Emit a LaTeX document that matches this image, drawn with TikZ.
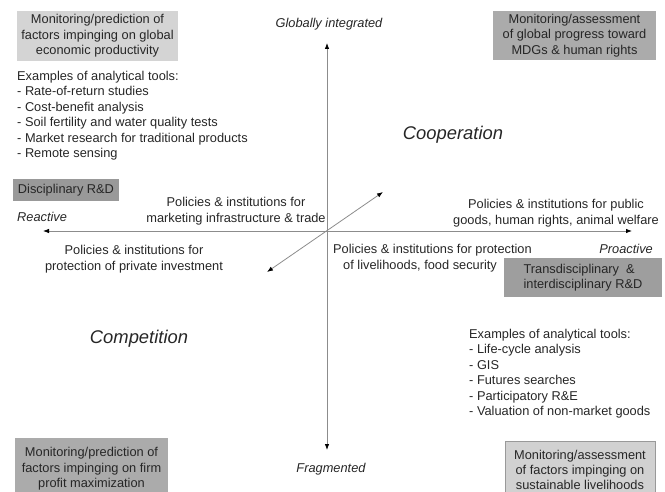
\documentclass[tikz,border=0pt]{standalone}
\usepackage{fontspec}
\setmainfont{Liberation Sans}
\usetikzlibrary{arrows.meta}

\begin{document}
\begin{tikzpicture}[x=1pt,y=-1pt,
  every node/.style={font=\fontsize{12.8}{15.4}\selectfont, text=black!85, inner sep=0pt},
  twotip/.style={line width=0.8pt, draw=black!45,
    {Latex[color=black,length=6pt,width=4.5pt]}-{Latex[color=black,length=6pt,width=4.5pt]}},
  greybox/.style={align=center},
  axislabel/.style={font=\fontsize{12.8}{15.4}\selectfont\itshape},
  quadrant/.style={font=\fontsize{18.4}{22}\selectfont\itshape}]
\useasboundingbox (0,0) rectangle (665,492);

\coordinate (axN) at (327,43);
\coordinate (axS) at (327,450);
\coordinate (axW) at (43,231);
\coordinate (axE) at (632,231);
\coordinate (diagNE) at (383,192);
\coordinate (diagSW) at (267,272);

\draw[twotip] (axS) -- (axN);
\draw[twotip] (axW) -- (axE);
\draw[twotip] (diagSW) -- (diagNE);

\node[axislabel] (glob) at (329,24) {Globally integrated};
\node[axislabel] (frag) at (331,469) {Fragmented};
\node[axislabel, anchor=west] (react) at (17,217) {Reactive};
\node[axislabel, anchor=east] (proact) at (653,249) {Proactive};

\node[quadrant] (coop) at (453,135) {Cooperation};
\node[quadrant] (comp) at (139,339) {Competition};

\node[greybox, fill=black!17, minimum width=161pt, minimum height=50pt] (globprod) at (97.5,36)
  {Monitoring/prediction of\\factors impinging on global\\economic productivity};
\node[greybox, fill=black!33, minimum width=163pt, minimum height=49pt] (mdg) at (574.5,35.5)
  {Monitoring/assessment\\of global progress toward\\MDGs \& human rights};
\node[greybox, fill=black!40, minimum width=106pt, minimum height=22pt] (discip) at (66,190)
  {Disciplinary R\&D};
\node[align=left, fill=black!38, minimum width=158pt, minimum height=39pt] (trans) at (583,277.5)
  {Transdisciplinary~~\&\\interdisciplinary R\&D};
\node[greybox, fill=black!33, minimum width=153pt, minimum height=62pt] (firm) at (91.5,469)
  {Monitoring/prediction of\\factors impinging on firm\\profit maximization};
\node[greybox, fill=black!18, draw=black!40, line width=0.5pt, minimum width=150pt, minimum height=58pt] (livelihood) at (580,470)
  {Monitoring/assessment\\of factors impinging on\\sustainable livelihoods};

\node[anchor=north west, align=left] (toolsA) at (17,71)
  {Examples of analytical tools:\\- Rate-of-return studies\\- Cost-benefit analysis\\- Soil fertility and water quality tests\\- Market research for traditional products\\- Remote sensing};
\node[anchor=north west, align=left] (toolsB) at (469,329)
  {Examples of analytical tools:\\- Life-cycle analysis\\- GIS\\- Futures searches\\- Participatory R\&E\\- Valuation of non-market goods};

\node[align=center] (market) at (236,211) {Policies \& institutions for\\marketing infrastructure \& trade};
\node[align=center] (private) at (134,259) {Policies \& institutions for\\protection of private investment};
\node[align=center] (public) at (556,213) {Policies \& institutions for public\\goods, human rights, animal welfare};
\node[align=left, anchor=west] (protect) at (333,258) {Policies \& institutions for protection\\\hspace*{10pt}of livelihoods, food security};
\end{tikzpicture}
\end{document}
